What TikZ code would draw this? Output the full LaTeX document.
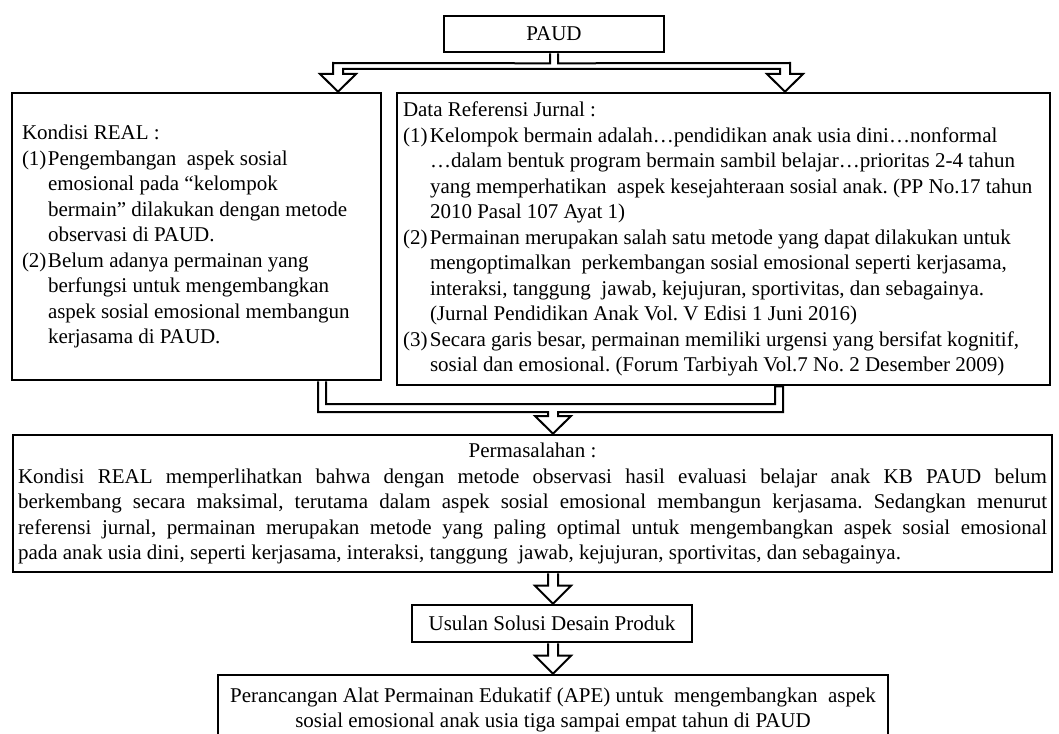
\documentclass[tikz,border=0pt]{standalone}
\usepackage{fontspec}
\setmainfont{Liberation Serif}
\usetikzlibrary{calc}
\frenchspacing
\tikzset{
  kotak/.style={draw, line width=2.6pt, inner sep=0pt, font=\fontsize{21}{25.5}\selectfont},
  panah/.style={draw, line width=2pt, fill=white, line join=miter},
}
\newcommand{\butir}[3]{\par\hangindent=#1\hangafter=1\noindent\makebox[#1][l]{#2}#3\par}
\newcommand{\panahturun}[2]{%
  \draw[panah] let \p1=(#1), \p2=(#2) in
    (\x2-5pt,\y1) -- (\x2-5pt,\y2+18pt) -- (\x2-18pt,\y2+18pt) -- (\x2,\y2)
    -- (\x2+18pt,\y2+18pt) -- (\x2+5pt,\y2+18pt) -- (\x2+5pt,\y1);}
\begin{document}
\begin{tikzpicture}[x=1pt,y=-1pt]
\useasboundingbox (0,0) rectangle (1059,733);
\clip (0,0) rectangle (1059,733);

\node[kotak, minimum width=220pt, minimum height=36pt] (paud) at (554,34) {PAUD};
\node[kotak, minimum width=369pt, minimum height=287pt] (real) at (196.5,236.5) {\parbox{349pt}{\raggedright
  Kondisi REAL :\par
  \butir{26pt}{(1)}{Pengembangan\ \ aspek sosial\newline emosional pada “kelompok\newline bermain” dilakukan dengan metode\newline observasi di PAUD.}
  \butir{26pt}{(2)}{Belum adanya permainan yang\newline berfungsi untuk mengembangkan\newline aspek sosial emosional membangun\newline kerjasama di PAUD.}}};
\node[kotak, minimum width=653pt, minimum height=292pt] (jurnal) at (723.5,239) {\parbox{641pt}{\raggedright
  Data Referensi Jurnal :\par
  \butir{27pt}{(1)}{Kelompok bermain adalah…pendidikan anak usia dini…nonformal\newline …dalam bentuk program bermain sambil belajar…prioritas 2-4 tahun\newline yang memperhatikan\ \ aspek kesejahteraan sosial anak. (PP No.17 tahun\newline 2010 Pasal 107 Ayat 1)}
  \butir{27pt}{(2)}{Permainan merupakan salah satu metode yang dapat dilakukan untuk\newline mengoptimalkan\ \ perkembangan sosial emosional seperti kerjasama,\newline interaksi, tanggung\ \ jawab, kejujuran, sportivitas, dan sebagainya.\newline (Jurnal Pendidikan Anak Vol. V Edisi 1 Juni 2016)}
  \butir{27pt}{(3)}{Secara garis besar, permainan memiliki urgensi yang bersifat kognitif,\newline sosial dan emosional. (Forum Tarbiyah Vol.7 No. 2 Desember 2009)}}};
\node[kotak, minimum width=1039pt, minimum height=137pt] (masalah) at (532.5,503.5) {\parbox{1029pt}{\tolerance=10000\hbadness=10000
  {\centering Permasalahan :\par}
  Kondisi REAL memperlihatkan bahwa dengan metode observasi hasil evaluasi belajar anak KB PAUD belum\linebreak
  berkembang secara maksimal, terutama dalam aspek sosial emosional membangun kerjasama. Sedangkan menurut\linebreak
  referensi jurnal, permainan merupakan metode yang paling optimal untuk mengembangkan aspek sosial emosional\linebreak
  pada anak usia dini, seperti kerjasama, interaksi, tanggung\ \ jawab, kejujuran, sportivitas, dan sebagainya.}};
\node[kotak, minimum width=280pt, minimum height=37pt] (usulan) at (552,623.5) {Usulan Solusi Desain Produk};
\node[kotak, minimum width=670pt, minimum height=70pt] (desain) at (553,710) {\parbox{660pt}{\centering
  Perancangan Alat Permainan Edukatif (APE) untuk\ \ mengembangkan\ \ aspek\\
  sosial emosional anak usia tiga sampai empat tahun di PAUD}};

% cabang dari PAUD
\draw[panah] ($(paud.south)+(-4,0)$) -- ($(paud.south)+(-4,10)$) -- (333,63) -- (333,74) -- (320,74)
  -- (real.north -| 338,0) -- (356,74) -- (343,74) -- (343,69) -- (780,69) -- (780,74) -- (767,74)
  -- (jurnal.north -| 785,0) -- (803,74) -- (790,74) -- (790,63) -- ($(paud.south)+(4,10)$) -- ($(paud.south)+(4,0)$);

% gabungan ke permasalahan
\coordinate (sL) at (322,0);
\coordinate (sR) at (779,0);
\coordinate (tengah) at (553,0);
\draw[panah] ($(real.south -| sL)+(-4,0)$) -- (318,412) -- (548,412) -- (548,416) -- (535,416)
  -- (masalah.north -| tengah) -- (571,416) -- (558,416) -- (558,412) -- (783,412)
  -- ($(jurnal.south -| sR)+(4,0)$) -- ($(jurnal.south -| sR)+(-4,0)$) -- (775,404) -- (326,404)
  -- ($(real.south -| sL)+(4,0)$);

\panahturun{masalah.south -| tengah}{usulan.north -| tengah}
\panahturun{usulan.south}{desain.north}
\end{tikzpicture}
\end{document}
